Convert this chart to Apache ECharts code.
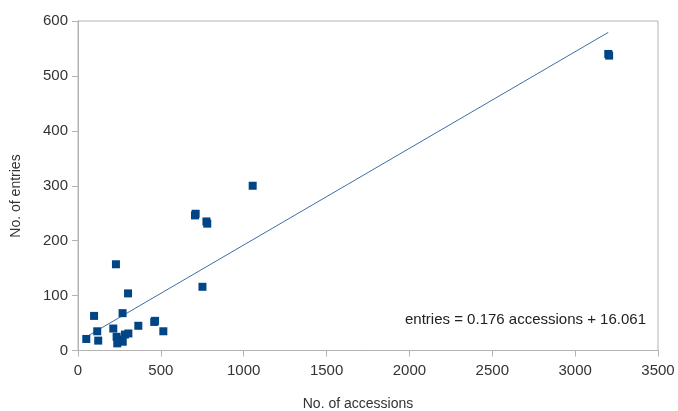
<!DOCTYPE html>
<html>
<head>
<meta charset="utf-8">
<script src="https://cdn.jsdelivr.net/npm/echarts@6/dist/echarts.min.js"></script>
<style>html,body{margin:0;padding:0;background:#fff}#c{width:678px;height:411px}</style>
</head>
<body>
<div id="c"></div>
<script>
const accessions = [50, 97, 116, 122, 213, 229, 237, 233, 253, 270, 283, 304, 269, 302, 364, 460, 465, 515, 706, 710, 751, 775, 780, 1054, 3200, 3205];
const entries    = [21, 63, 35, 18, 40, 157, 13, 25, 20, 16, 29, 31, 68, 104, 45, 52, 54, 35, 246, 249, 116, 235, 231, 300, 540, 537];
const trendX = [50, 3200];
const trendY = [24.9, 579.3];
const xTicks = [0, 500, 1000, 1500, 2000, 2500, 3000, 3500];
const yTicks = [0, 100, 200, 300, 400, 500, 600];
const equation = 'entries = 0.176 accessions + 16.061';
const xTitle = 'No. of accessions';
const yTitle = 'No. of entries';

const chart = echarts.init(document.getElementById('c'));
const font = 'Liberation Sans, Arial, sans-serif';
chart.setOption({
  animation: false,
  grid: { left: 78, right: 20, top: 21, bottom: 60.5, show: true, borderColor: '#b3b3b3', borderWidth: 1, backgroundColor: 'transparent' },
  xAxis: {
    type: 'value', min: xTicks[0], max: xTicks[xTicks.length - 1], interval: 500,
    axisLine: { show: true, lineStyle: { color: '#b3b3b3' } },
    axisTick: { show: true, length: 6, lineStyle: { color: '#b3b3b3' } },
    axisLabel: { color: '#333', fontSize: 15, fontFamily: font, margin: 13, formatter: v => String(v) },
    splitLine: { show: false }
  },
  yAxis: {
    type: 'value', min: yTicks[0], max: yTicks[yTicks.length - 1], interval: 100,
    axisLine: { show: true, lineStyle: { color: '#b3b3b3' } },
    axisTick: { show: true, length: 6, lineStyle: { color: '#b3b3b3' } },
    axisLabel: { color: '#333', fontSize: 15, fontFamily: font, margin: 10, formatter: v => String(v) },
    splitLine: { show: false }
  },
  series: [
    {
      type: 'line', data: trendX.map((x, i) => [x, trendY[i]]), symbol: 'none',
      lineStyle: { color: '#3b6fa7', width: 1 }, silent: true, z: 1
    },
    {
      type: 'scatter', data: accessions.map((x, i) => [x, entries[i]]),
      symbol: 'rect', symbolSize: 8,
      itemStyle: { color: '#004586', opacity: 1 }, z: 2
    }
  ],
  graphic: [
    { type: 'text', x: 405, y: 320,
      style: { text: equation, fill: '#222', fontSize: 15, fontFamily: font, verticalAlign: 'middle' } },
    { type: 'text', x: 358, y: 404,
      style: { text: xTitle, fill: '#333', fontSize: 14, fontFamily: font, align: 'center', verticalAlign: 'middle' } },
    { type: 'text', x: 16, y: 196, rotation: Math.PI / 2,
      style: { text: yTitle, fill: '#333', fontSize: 14, fontFamily: font, align: 'center', verticalAlign: 'middle' } }
  ]
});
</script>
</body>
</html>
